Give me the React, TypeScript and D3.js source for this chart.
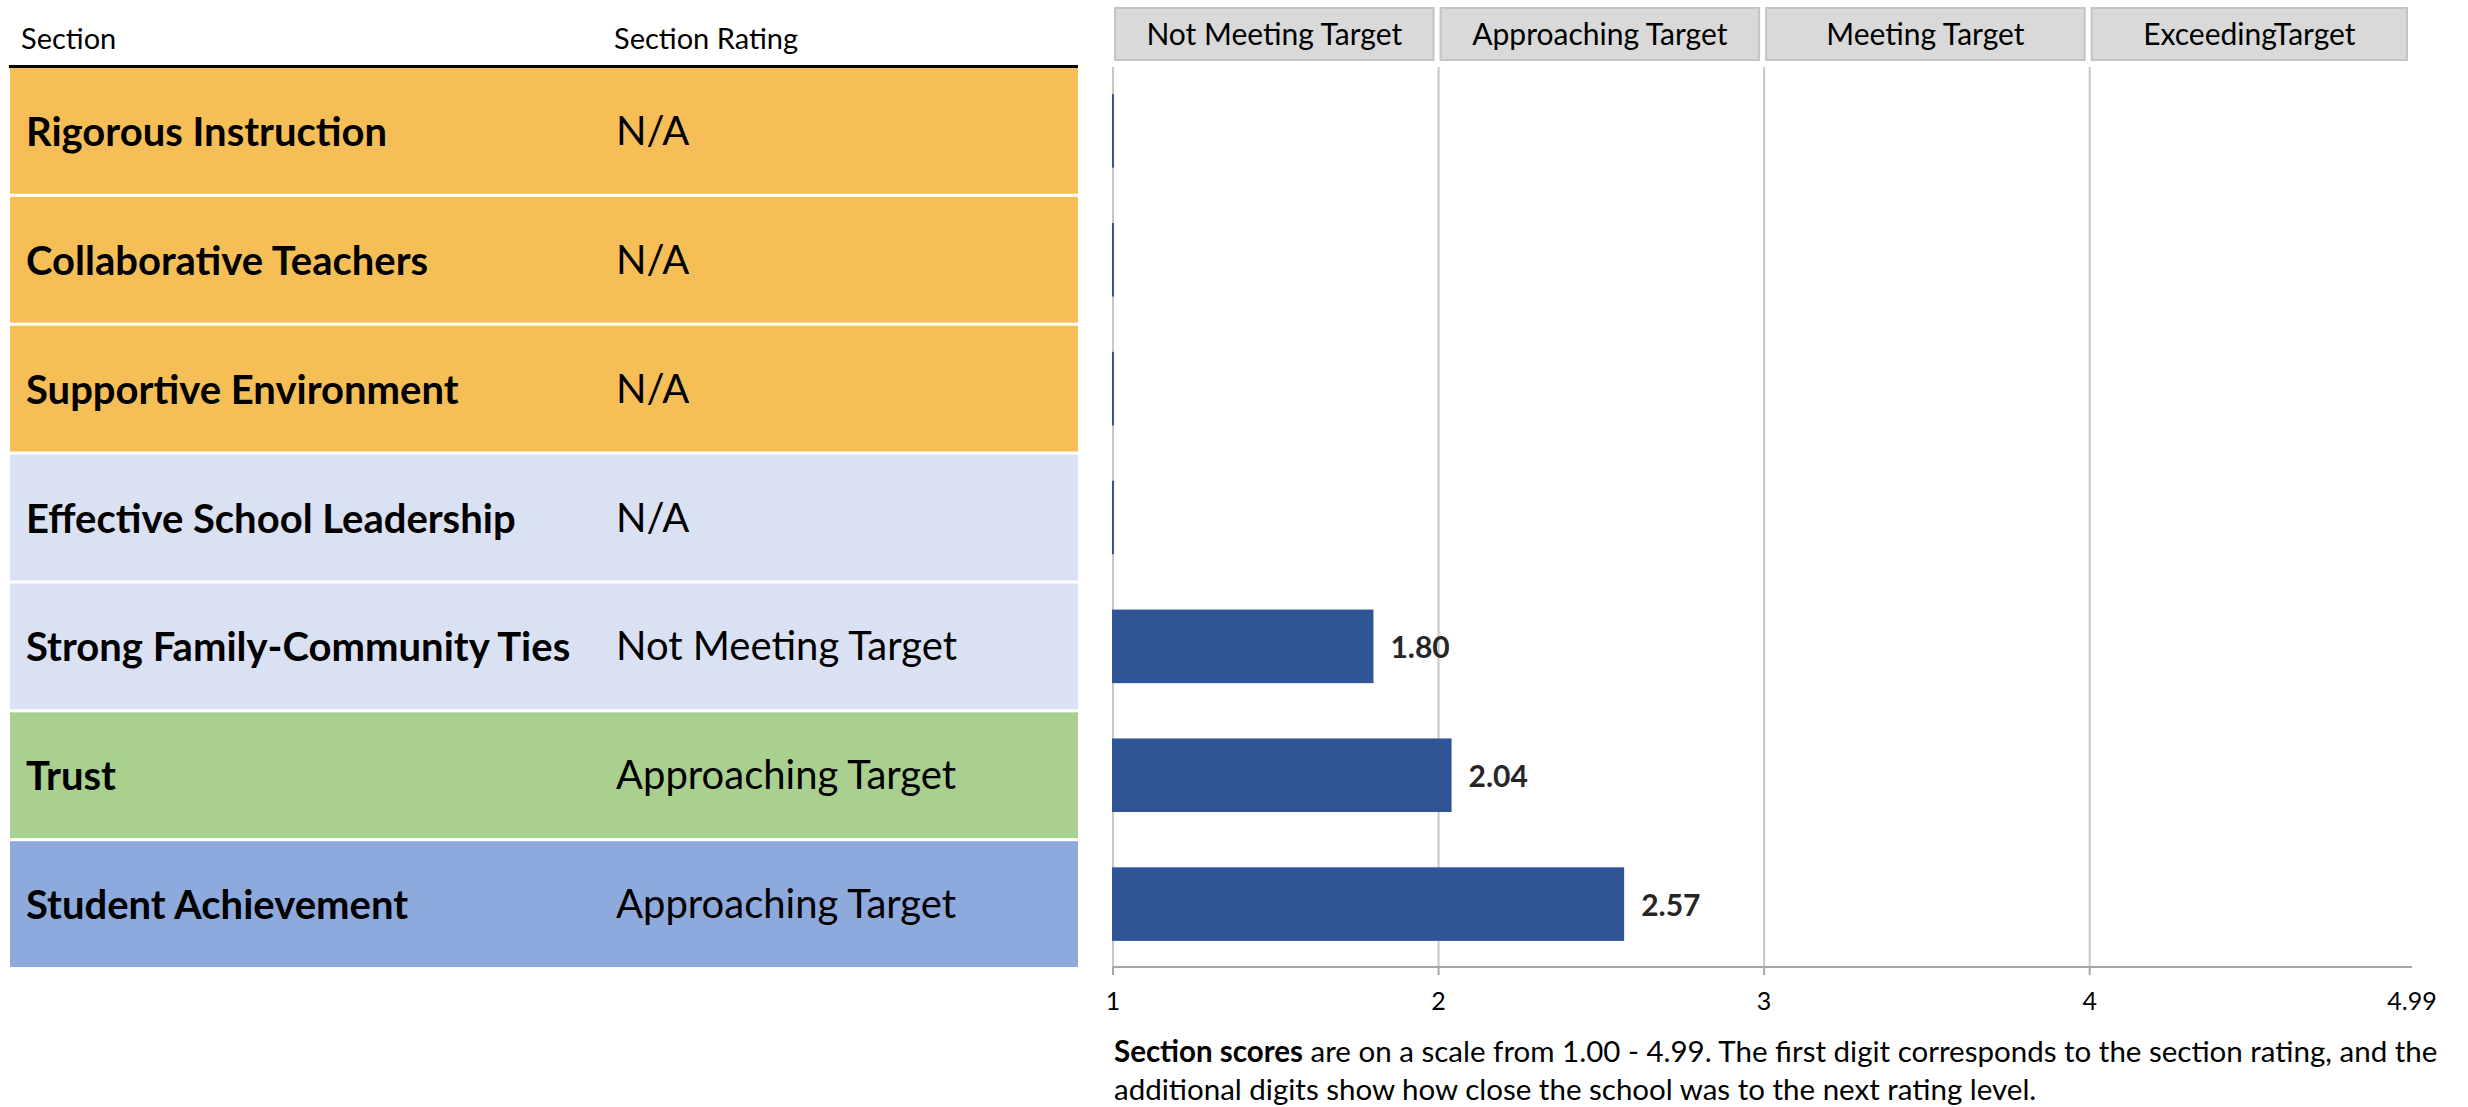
import React from "react";
import * as d3 from "d3";

const sections = [
  "Rigorous Instruction",
  "Collaborative Teachers",
  "Supportive Environment",
  "Effective School Leadership",
  "Strong Family-Community Ties",
  "Trust",
  "Student Achievement",
];
const ratings = [
  "N/A",
  "N/A",
  "N/A",
  "N/A",
  "Not Meeting Target",
  "Approaching Target",
  "Approaching Target",
];
const scores = [1.0, 1.0, 1.0, 1.0, 1.8, 2.04, 2.57];
const groups = ["core", "core", "core", "lead", "lead", "trust", "achieve"];
const groupColors: Record<string, string> = {
  core: "#F6BE56",
  lead: "#DAE1F2",
  trust: "#A9D08E",
  achieve: "#8EA9DB",
};
const levelLabels = ["Not Meeting Target", "Approaching Target", "Meeting Target", "ExceedingTarget"];
const levelBounds = [1, 2, 3, 4, 4.99];
const tickValues = [1, 2, 3, 4, 4.99];
const gridValues = [1, 2, 3, 4];

const FONT = "Lato, 'Open Sans', sans-serif";

export default function App() {
  const W = 2468;
  const H = 1107;

  const y = d3.scaleBand<string>().domain(sections).range([68, 967]).paddingInner(0.024).paddingOuter(0);
  const x = d3.scaleLinear().domain([1, 4.99]).range([1113, 2412]);
  const bw = y.bandwidth();
  const barH = bw * 0.585;
  const fmt = d3.format(".2f");
  const tickFmt = (v: number) => (Number.isInteger(v) ? String(v) : d3.format(".2f")(v));

  return (
    <svg
      width={W}
      height={H}
      viewBox={`0 0 ${W} ${H}`}
      style={{ position: "absolute", left: 0, top: 0, display: "block", background: "#fff" }}
      fontFamily={FONT}
    >
      <rect x={0} y={0} width={W} height={H} fill="#fff" />
      {/* Table header */}
      <text x={21} y={49} fontSize={29} fill="#000">Section</text>
      <text x={614} y={49} fontSize={29} fill="#000">Section Rating</text>
      <rect x={9} y={65} width={1069} height={3} fill="#000" />

      {/* Table rows */}
      {sections.map((s, i) => {
        const top = y(s)!;
        const cy = top + bw / 2;
        return (
          <g key={s}>
            <rect x={10} y={top} width={1068} height={bw} fill={groupColors[groups[i]]} />
            <text x={26} y={cy + 15} fontSize={40} fontWeight={700} fill="#000">{s}</text>
            <text x={616} y={cy + 14} fontSize={40} fill="#000">{ratings[i]}</text>
          </g>
        );
      })}

      {/* Level header boxes */}
      {levelLabels.map((l, i) => {
        const x0 = x(levelBounds[i]) + 2;
        const x1 = x(levelBounds[i + 1]) - 5;
        return (
          <g key={l}>
            <rect x={x0} y={8} width={x1 - x0} height={52} fill="#D9D9D9" stroke="#C4C4C4" strokeWidth={2} />
            <text x={(x0 + x1) / 2} y={45} fontSize={30} textAnchor="middle" fill="#000">{l}</text>
          </g>
        );
      })}

      {/* Gridlines */}
      {gridValues.map((v) => (
        <line key={v} x1={x(v)} x2={x(v)} y1={67} y2={967} stroke="#C8C8C8" strokeWidth={2} />
      ))}

      {/* Bars */}
      {sections.map((s, i) => {
        const cy = y(s)! + bw / 2;
        const x0 = x(1) - 1;
        const w = Math.max(x(scores[i]) - x(1) + 1, 2);
        return (
          <g key={s}>
            <rect x={x0} y={cy - barH / 2} width={w} height={barH} fill="#2F5597" />
            {ratings[i] !== "N/A" && (
              <text x={x(scores[i]) + 17} y={cy + 12} fontSize={30} fontWeight={700} fill="#262626">
                {fmt(scores[i])}
              </text>
            )}
          </g>
        );
      })}

      {/* Axis */}
      <line x1={x(1)} x2={x(4.99)} y1={967} y2={967} stroke="#A6A6A6" strokeWidth={2} />
      {gridValues.map((v) => (
        <line key={v} x1={x(v)} x2={x(v)} y1={967} y2={975} stroke="#A6A6A6" strokeWidth={2} />
      ))}
      {tickValues.map((v) => (
        <text key={v} x={x(v)} y={1010} fontSize={25} textAnchor="middle" fill="#000">
          {tickFmt(v)}
        </text>
      ))}

      {/* Footnote */}
      <text x={1114} y={1062} fontSize={29.5} fill="#000">
        <tspan fontWeight={700}>Section scores</tspan>
        <tspan> are on a scale from 1.00 - 4.99. The first digit corresponds to the section rating, and the</tspan>
      </text>
      <text x={1114} y={1100} fontSize={29.5} fill="#000">
        additional digits show how close the school was to the next rating level.
      </text>
    </svg>
  );
}
